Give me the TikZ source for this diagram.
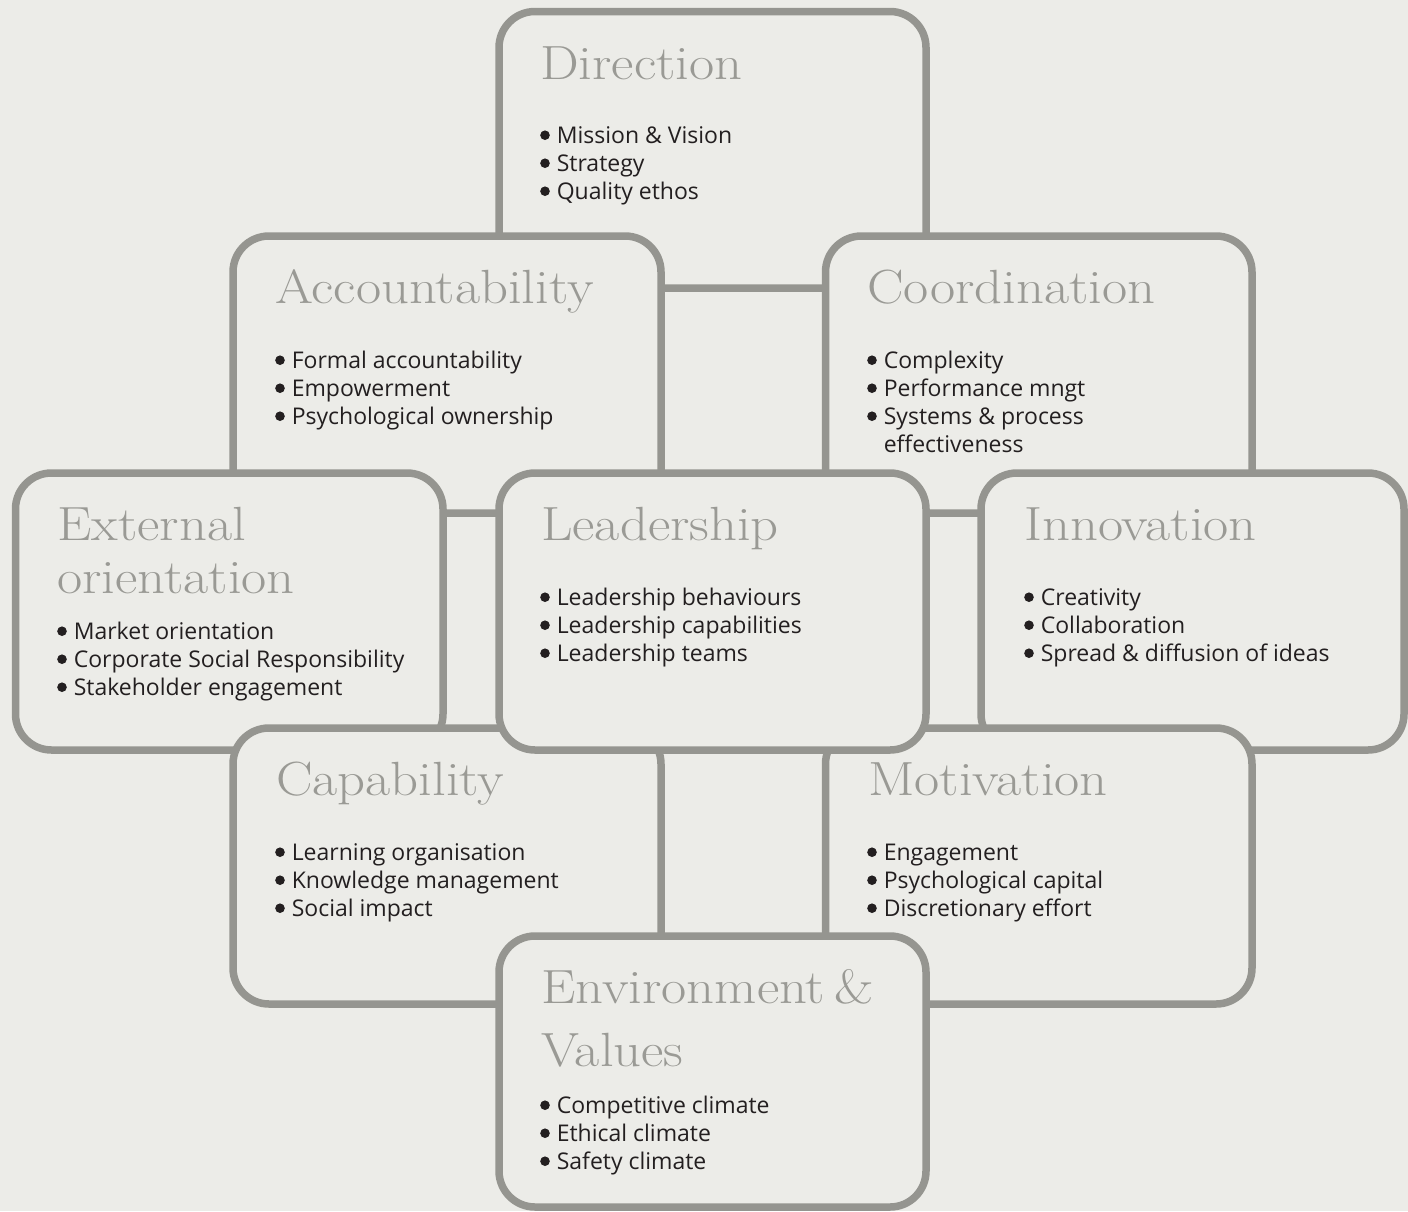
\documentclass[tikz,border=0pt]{standalone}
\usepackage{fontspec}
\newfontfamily\bodyfont{Open Sans}
\newfontfamily\ttlfont[FakeStretch=1.14]{Latin Modern Roman}
\usetikzlibrary{calc}
\definecolor{bg}{HTML}{ECECE8}
\definecolor{edge}{HTML}{959590}
\definecolor{ttl}{HTML}{9A9A95}
\definecolor{txt}{HTML}{231F20}
\newcommand{\bl}{\tikz[baseline=0pt]\fill[txt] (4.8pt,7.8pt) circle (4.8pt);}
\begin{document}
\begin{tikzpicture}[x=1pt,y=-1pt,
  box/.style={draw=edge, line width=7.5pt, fill=bg, rounded corners=36pt,
    inner sep=0pt, outer sep=0pt, minimum width=427pt, minimum height=277pt},
  ttlnode/.style={anchor=base west, inner sep=0pt, text=ttl,
    font=\ttlfont\fontsize{48}{53}\selectfont},
  lst/.style={anchor=base west, inner sep=0pt, text=txt,
    font=\bodyfont\fontsize{23}{28}\selectfont},
]
\fill[bg] (0,0) rectangle (1408,1211);
\useasboundingbox (0,0) rectangle (1408,1211);

% Direction
\node[box, minimum height=276.5pt] (dir) at (712.5,149.75) {};
\node[ttlnode] (dirT) at ($(dir.north west)+(41,67.5)$) {Direction};
\node[lst] (dirL) at ($(dir.north west)+(41,131.5)$) {\begin{tabular}[t]{@{}l@{\hspace{7pt}}l@{}}
\bl & Mission \& Vision\\ \bl & Strategy\\ \bl & Quality ethos\end{tabular}};

% Accountability
\node[box, minimum width=428pt] (acc) at (447,374.5) {};
\node[ttlnode] (accT) at ($(acc.north west)+(42,67)$) {Accountability};
\node[lst] (accL) at ($(acc.north west)+(42,132)$) {\begin{tabular}[t]{@{}l@{\hspace{7pt}}l@{}}
\bl & Formal accountability\\ \bl & Empowerment\\ \bl & Psychological ownership\end{tabular}};

% Coordination
\node[box, minimum width=426.5pt] (coo) at (1038.75,374.5) {};
\node[ttlnode] (cooT) at ($(coo.north west)+(41.5,67)$) {Coordination};
\node[lst] (cooL) at ($(coo.north west)+(41.5,132)$) {\begin{tabular}[t]{@{}l@{\hspace{7pt}}l@{}}
\bl & Complexity\\ \bl & Performance mngt\\ \bl & Systems \& process\\ & effectiveness\end{tabular}};

% External orientation
\node[box, minimum width=427.5pt] (ext) at (229.25,611.5) {};
\node[ttlnode] (extT) at ($(ext.north west)+(41.5,67)$) {External};
\node[ttlnode] (extT2) at ($(ext.north west)+(41.5,120)$) {orientation};
\node[lst] (extL) at ($(ext.north west)+(41.5,166)$) {\begin{tabular}[t]{@{}l@{\hspace{7pt}}l@{}}
\bl & Market orientation\\ \bl & Corporate Social Responsibility\\ \bl & Stakeholder engagement\end{tabular}};

% Innovation
\node[box, minimum width=423pt] (inn) at (1192.5,611.5) {};
\node[ttlnode] (innT) at ($(inn.north west)+(43,67)$) {Innovation};
\node[lst] (innL) at ($(inn.north west)+(43,132)$) {\begin{tabular}[t]{@{}l@{\hspace{7pt}}l@{}}
\bl & Creativity\\ \bl & Collaboration\\ \bl & Spread \& diffusion of ideas\end{tabular}};

% Capability
\node[box, minimum width=428pt, minimum height=276pt] (cap) at (447,866) {};
\node[ttlnode] (capT) at ($(cap.north west)+(43,67)$) {Capability};
\node[lst] (capL) at ($(cap.north west)+(42,132)$) {\begin{tabular}[t]{@{}l@{\hspace{7pt}}l@{}}
\bl & Learning organisation\\ \bl & Knowledge management\\ \bl & Social impact\end{tabular}};

% Motivation
\node[box, minimum width=426.5pt, minimum height=276pt] (mot) at (1038.75,866) {};
\node[ttlnode] (motT) at ($(mot.north west)+(42.5,67)$) {Motivation};
\node[lst] (motL) at ($(mot.north west)+(41.5,132)$) {\begin{tabular}[t]{@{}l@{\hspace{7pt}}l@{}}
\bl & Engagement\\ \bl & Psychological capital\\ \bl & Discretionary effort\end{tabular}};

% Leadership
\node[box] (lea) at (712.5,611.5) {};
\node[ttlnode] (leaT) at ($(lea.north west)+(42,67)$) {Leadership};
\node[lst] (leaL) at ($(lea.north west)+(41,132)$) {\begin{tabular}[t]{@{}l@{\hspace{7pt}}l@{}}
\bl & Leadership behaviours\\ \bl & Leadership capabilities\\ \bl & Leadership teams\end{tabular}};

% Environment & Values
\node[box, minimum height=271pt] (env) at (712.5,1071.5) {};
\node[ttlnode] (envT) at ($(env.north west)+(42,67)$) {Environment\hspace{9pt}\&};
\node[ttlnode] (envT2) at ($(env.north west)+(42,130)$) {Values};
\node[lst] (envL) at ($(env.north west)+(41,177)$) {\begin{tabular}[t]{@{}l@{\hspace{7pt}}l@{}}
\bl & Competitive climate\\ \bl & Ethical climate\\ \bl & Safety climate\end{tabular}};
\end{tikzpicture}
\end{document}
